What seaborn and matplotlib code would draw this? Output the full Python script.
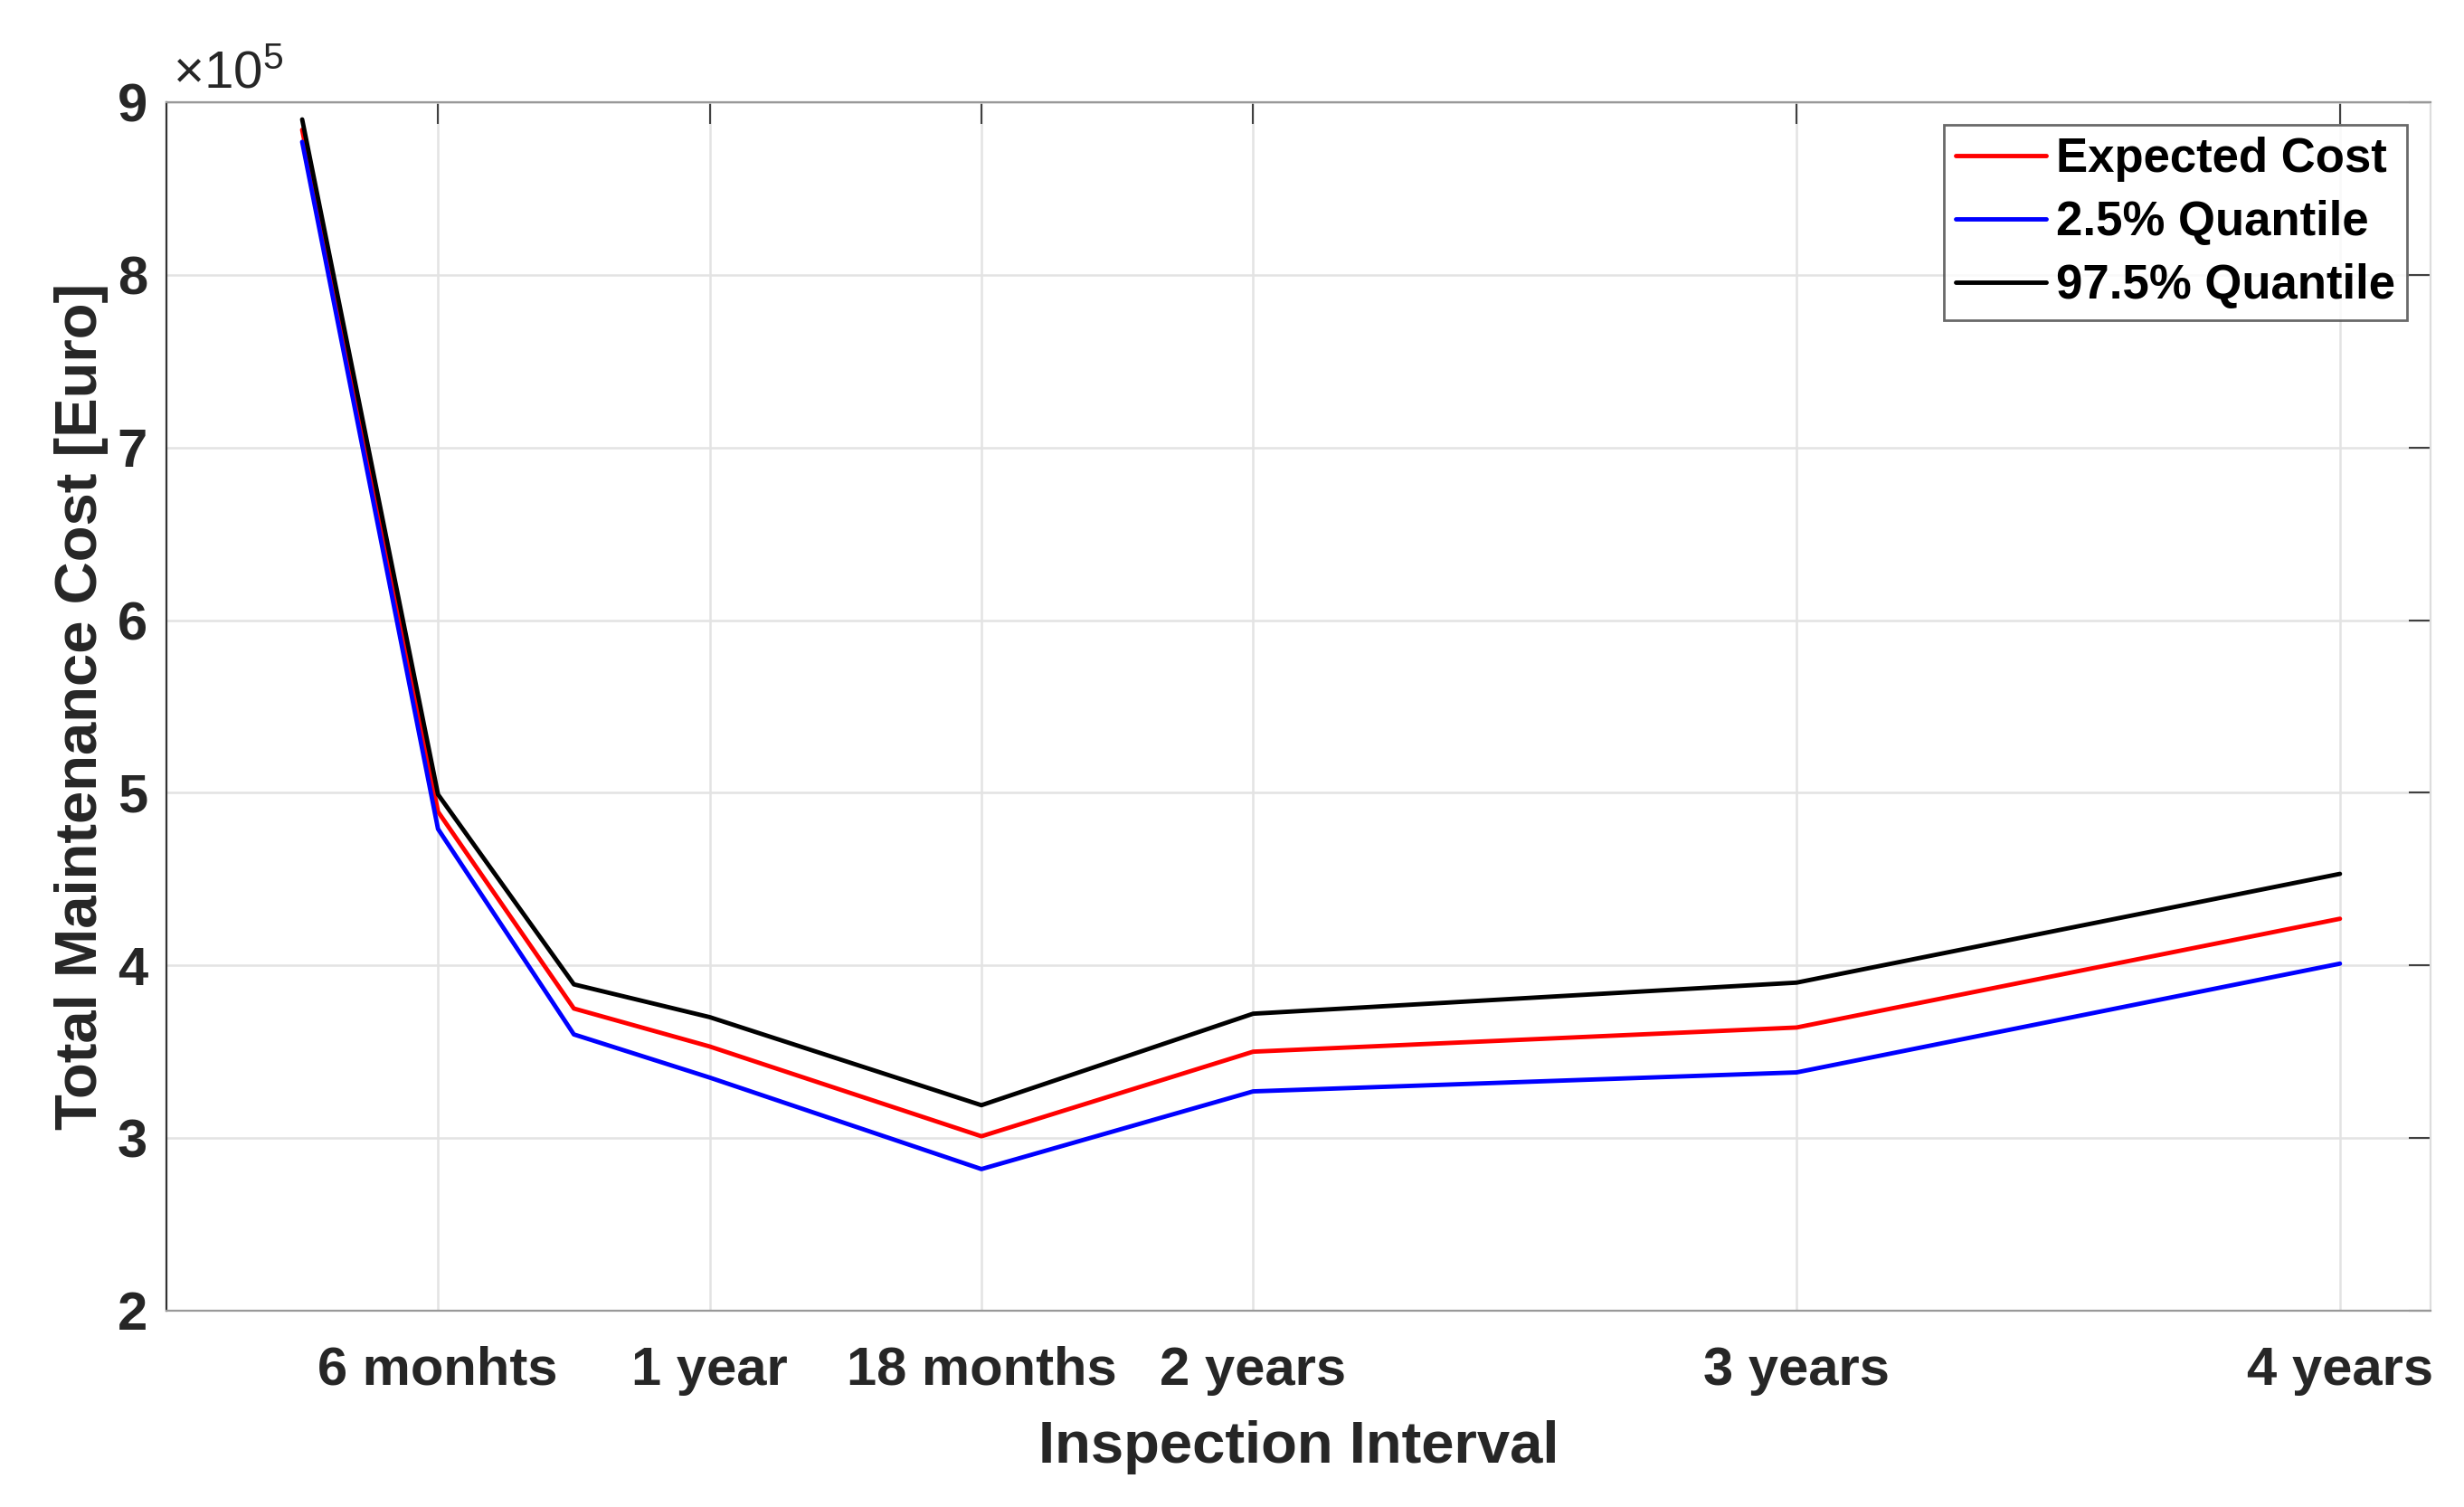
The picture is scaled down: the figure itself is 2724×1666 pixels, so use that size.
import matplotlib
matplotlib.use("Agg")
import pandas as pd
import seaborn as sns
import matplotlib.pyplot as plt

# inspection interval in months, cost in units of 1e5 Euro
months = [3, 6, 9, 12, 18, 24, 36, 48]
expected_cost = [8.84, 4.89, 3.75, 3.53, 3.01, 3.50, 3.64, 4.27]
quantile_025 = [8.77, 4.79, 3.60, 3.35, 2.82, 3.27, 3.38, 4.01]
quantile_975 = [8.90, 4.99, 3.89, 3.70, 3.19, 3.72, 3.90, 4.53]

series_names = ["Expected Cost", "2.5% Quantile", "97.5% Quantile"]
series_colors = ["#ff0000", "#0000ff", "#000000"]

tick_months = [6, 12, 18, 24, 36, 48]
tick_labels = ["6 monhts", "1 year", "18 months", "2 years", "3 years", "4 years"]
y_ticks = [2, 3, 4, 5, 6, 7, 8, 9]

df = pd.DataFrame({
    "months": months * 3,
    "cost": expected_cost + quantile_025 + quantile_975,
    "series": [s for s in series_names for _ in months],
})

sns.set_style("white")
plt.rcParams["font.family"] = ["Liberation Sans", "DejaVu Sans"]
plt.rcParams["mathtext.fontset"] = "custom"
plt.rcParams["mathtext.rm"] = "Liberation Sans"
plt.rcParams["mathtext.it"] = "Liberation Sans"

fig = plt.figure(figsize=(27.24, 16.66), dpi=100)
ax = fig.add_axes([0.0675, 0.1303, 0.9189, 0.8019])

sns.lineplot(data=df, x="months", y="cost", hue="series", hue_order=series_names,
             palette=dict(zip(series_names, series_colors)), linewidth=3.5,
             estimator=None, sort=False, ax=ax)

ax.set_xlim(0, 50)
ax.set_ylim(2, 9)
ax.set_xticks(tick_months)
ax.set_xticklabels(tick_labels)
ax.set_yticks(y_ticks)
ax.grid(True, color="#e3e3e3", linewidth=1.8)
ax.set_axisbelow(True)

ax.tick_params(axis="both", direction="in", length=17, width=1.5, color="#404040",
               labelsize=43, labelcolor="#262626")
ax.tick_params(axis="x", top=True, pad=28)
ax.tick_params(axis="y", right=True, pad=15)
for lab in ax.get_xticklabels() + ax.get_yticklabels():
    lab.set_fontweight("bold")

ax.spines["left"].set_color("#333333")
ax.spines["bottom"].set_color("#999999")
ax.spines["top"].set_color("#999999")
ax.spines["right"].set_color("#dddddd")
for sp in ax.spines.values():
    sp.set_linewidth(1.6)

ax.set_xlabel("Inspection Interval", fontsize=47, fontweight="bold", color="#262626")
ax.set_ylabel("Total Maintenance Cost [Euro]", fontsize=47, fontweight="bold", color="#262626")
ax.xaxis.set_label_coords(0.5, -0.091)
ax.yaxis.set_label_coords(-0.0256, 0.5)

ax.text(0.003, 1.012, r"$\times10^{5}$", transform=ax.transAxes, fontsize=42,
        color="#262626", ha="left", va="baseline")

handles, labels = ax.get_legend_handles_labels()
leg = ax.legend(handles, labels, loc="upper right", bbox_to_anchor=(0.9896, 0.9813),
                borderaxespad=0, frameon=True, fancybox=False,
                handlelength=1.9, handletextpad=0.2, labelspacing=0.38,
                borderpad=0.25, prop={"weight": "bold", "size": 38})
leg.get_frame().set_edgecolor("#444444")
leg.get_frame().set_linewidth(2)
for line in leg.get_lines():
    line.set_linewidth(3.5)
for txt in leg.get_texts():
    txt.set_color("#000000")

fig.savefig("out.png", dpi=100)
